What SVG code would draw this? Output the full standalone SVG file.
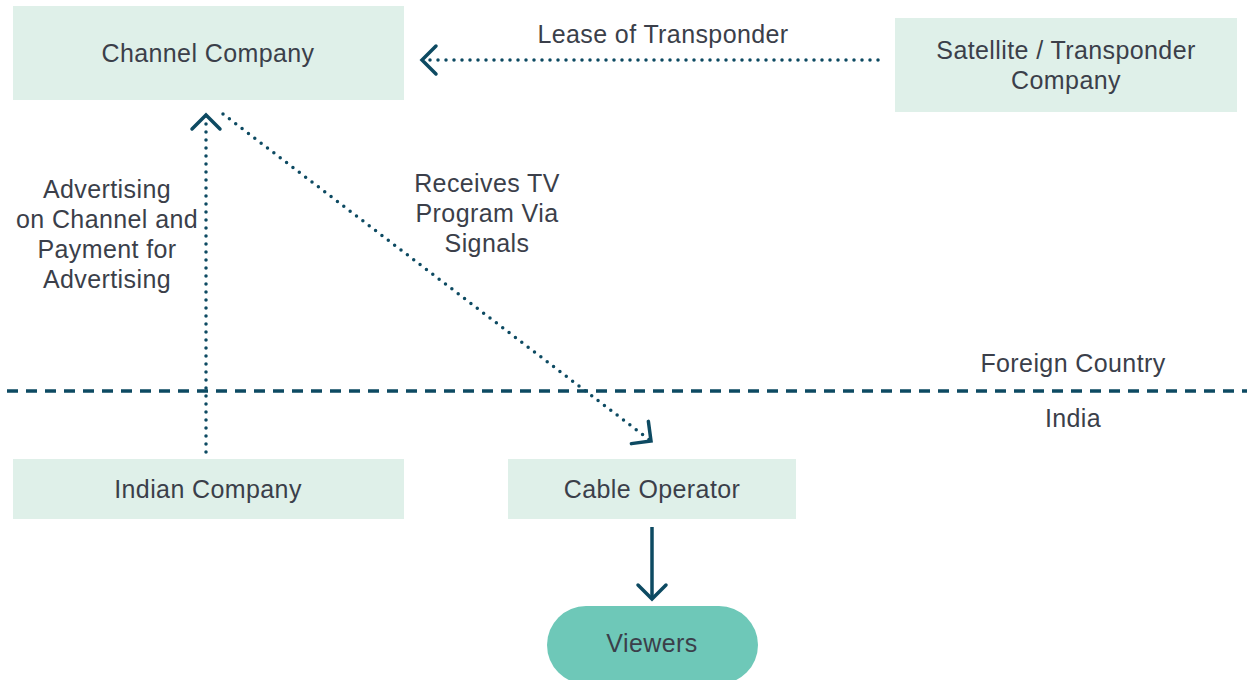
<svg xmlns="http://www.w3.org/2000/svg" width="1247" height="680" viewBox="0 0 1247 680">
<style>
.box{fill:#dff0e9}
.t{font-family:"Liberation Sans",Arial,sans-serif;font-size:25px;letter-spacing:0.4px;fill:#3b3f4a;text-anchor:middle}
.dot{fill:none;stroke:#0d4a62;stroke-width:3.5;stroke-linecap:round;stroke-dasharray:0 8}
.solid{fill:none;stroke:#0d4a62;stroke-width:3.5}
.head{fill:none;stroke:#0d4a62;stroke-width:3.5;stroke-linecap:round;stroke-linejoin:miter}
</style>
<defs>
<marker id="arr" markerUnits="userSpaceOnUse" viewBox="-20 -20 30 40" markerWidth="30" markerHeight="40" refX="0" refY="0" orient="auto" overflow="visible">
<path class="head" d="M-14,-14 L0,0 L-14,14"/>
</marker>
</defs>
<rect width="1247" height="680" fill="#ffffff"/>
<g id="channel-company">
<rect class="box" x="13" y="6" width="391" height="94"/>
<text class="t" x="208" y="62">Channel Company</text>
</g>
<g id="satellite-company">
<rect class="box" x="895" y="18" width="342" height="94"/>
<text class="t" x="1066" y="59">Satellite / Transponder</text>
<text class="t" x="1066" y="89">Company</text>
</g>
<g id="indian-company">
<rect class="box" x="13" y="459" width="391" height="60"/>
<text class="t" x="208" y="498">Indian Company</text>
</g>
<g id="cable-operator">
<rect class="box" x="508" y="459" width="288" height="60"/>
<text class="t" x="652" y="498">Cable Operator</text>
</g>
<g id="viewers">
<rect x="547" y="606" width="211" height="78" rx="39" fill="#6ec8b8"/>
<text class="t" x="652" y="652">Viewers</text>
</g>
<g id="boundary">
<line x1="7" y1="391" x2="1247" y2="391" stroke="#0d4a62" stroke-width="3.5" stroke-dasharray="11 8"/>
<text class="t" x="1073" y="372">Foreign Country</text>
<text class="t" x="1073" y="427">India</text>
</g>
<g id="connectors">
<line class="dot" x1="878" y1="60" x2="422" y2="60" marker-end="url(#arr)"/>
<line class="dot" x1="206" y1="452" x2="206" y2="115" marker-end="url(#arr)"/>
<line class="dot" x1="223" y1="114" x2="651" y2="441" marker-end="url(#arr)"/>
<line class="solid" x1="652" y1="527" x2="652" y2="599" marker-end="url(#arr)"/>
</g>
<g id="labels">
<text class="t" x="663" y="43">Lease of Transponder</text>
<text class="t" x="487" y="192">Receives TV</text>
<text class="t" x="487" y="222">Program Via</text>
<text class="t" x="487" y="252">Signals</text>
<text class="t" x="107" y="198">Advertising</text>
<text class="t" x="107" y="228">on Channel and</text>
<text class="t" x="107" y="258">Payment for</text>
<text class="t" x="107" y="288">Advertising</text>
</g>
</svg>
